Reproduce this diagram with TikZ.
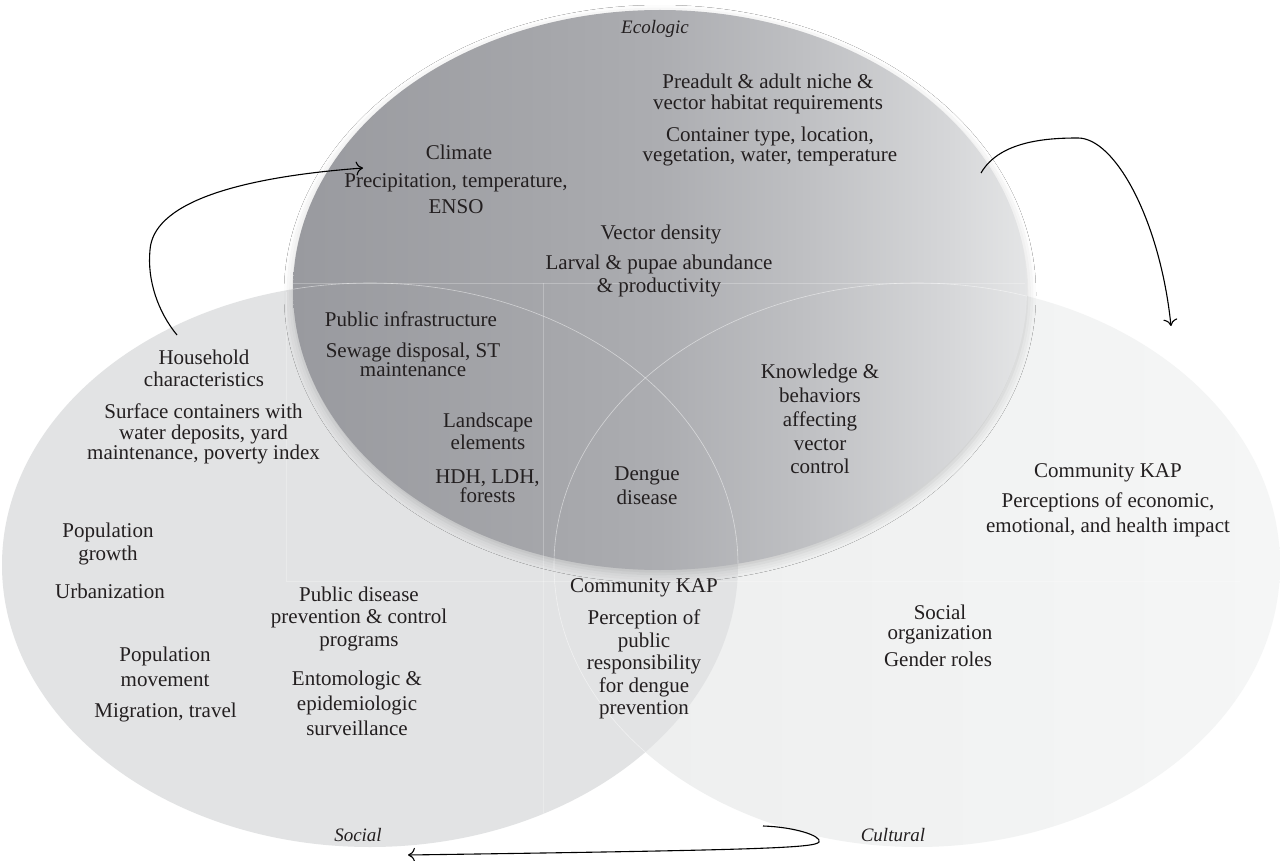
\documentclass[tikz,border=0pt]{standalone}
\usepackage{fontspec}
\setmainfont{Liberation Serif}
\usetikzlibrary{arrows.meta,shadows.blur}
\definecolor{txt}{HTML}{231F20}
\definecolor{socfill}{HTML}{E2E3E4}
\definecolor{culL}{HTML}{EDEEEE}
\definecolor{culR}{HTML}{F5F6F6}
\definecolor{ec0}{HTML}{999A9F}
\definecolor{ec1}{HTML}{A5A6AA}
\definecolor{ec2}{HTML}{ACADB1}
\definecolor{ec3}{HTML}{BEBFC2}
\definecolor{ec4}{HTML}{D5D6D8}
\definecolor{ec5}{HTML}{E4E5E6}
\pgfdeclarehorizontalshading{ecoshade}{100bp}{color(0bp)=(ec0); color(25bp)=(ec0); color(42bp)=(ec1); color(50bp)=(ec2); color(59.5bp)=(ec3); color(69.5bp)=(ec4); color(75bp)=(ec5); color(100bp)=(ec5)}
\pgfdeclarehorizontalshading{culshade}{100bp}{color(0bp)=(culL); color(25bp)=(culL); color(75bp)=(culR); color(100bp)=(culR)}
\begin{document}
\begin{tikzpicture}[x=1pt,y=-1pt,
  lbl/.style={align=center, inner sep=0pt, text=txt, font=\fontsize{21}{#1}\selectfont, execute at begin node=\strut, execute at end node=\strut},
  lbl/.default=21.5,
  one/.style={inner sep=0pt, text=txt, font=\fontsize{21}{22}\selectfont, anchor=base},
  ital/.style={inner sep=0pt, text=txt, font=\fontsize{19}{22}\selectfont\itshape, anchor=base},
  conn/.style={draw=black, line width=1.1pt, -{To[length=7pt,width=14pt]}},
  faint/.style={draw=white, draw opacity=0.25, line width=0.6pt},
  setline/.style={draw=white, draw opacity=0.5, line width=0.6pt}
]
\useasboundingbox (0,0) rectangle (1280,861);
\fill[white] (0,0) rectangle (1280,861);

% sets
\shade[shading=culshade] (917,565) ellipse [x radius=363pt, y radius=282pt];
\fill[socfill] (370,565) ellipse [x radius=368pt, y radius=282pt];
\shade[shading=ecoshade, blur shadow={shadow xshift=0pt, shadow yshift=-4pt, shadow blur radius=9pt, shadow opacity=18}]
  (660,290) ellipse [x radius=367pt, y radius=280pt];

% faint outlines where the sets overlap
\begin{scope}
  \clip (660,290) ellipse [x radius=367pt, y radius=280pt];
  \draw[setline] (370,565) ellipse [x radius=368pt, y radius=282pt];
\end{scope}
\begin{scope}
  \clip (370,565) ellipse [x radius=368pt, y radius=282pt]
        (660,290) ellipse [x radius=367pt, y radius=280pt];
  \draw[setline] (917,565) ellipse [x radius=363pt, y radius=282pt];
\end{scope}
\draw[faint] (293,283) -- (1025,283);
\draw[faint] (543,283) -- (543,815);
\draw[faint] (286,292) -- (286,581) -- (1240,581);

% labels
\node[ital] (eco) at (655,34) {Ecologic};
\node[ital] (soc) at (358,841) {Social};
\node[ital] (cul) at (893,841) {Cultural};

\node[lbl=21] (preadult) at (768,95.3) {Preadult \& adult niche \&\\vector habitat requirements};
\node[lbl=20] (container) at (770,147.7) {Container type, location,\\vegetation, water, temperature};
\node[one] (climate) at (459,160) {Climate};
\node[lbl=26] (precip) at (456,197.8) {Precipitation, temperature,\\ENSO};
\node[one] (vdens) at (661,240) {Vector density};
\node[lbl=23] (larval) at (659,276.9) {Larval \& pupae abundance\\\& productivity};
\node[one] (pubinf) at (411,326) {Public infrastructure};
\node[lbl=18.5] (sewage) at (413,362.4) {Sewage disposal, ST\\maintenance};
\node[lbl=22] (landsc) at (488,434.6) {Landscape\\elements};
\node[lbl=19] (hdh) at (487.5,488.7) {HDH, LDH,\\forests};
\node[lbl=24] (dengue) at (647,489.2) {Dengue\\disease};
\node[lbl=22] (household) at (204,371.6) {Household\\characteristics};
\node[lbl=20.5] (surface) at (203.5,434.7) {Surface containers with\\water deposits, yard\\maintenance, poverty index};
\node[lbl=22.4] (popgrowth) at (108,545) {Population\\growth};
\node[one] (urban) at (110,598) {Urbanization};
\node[lbl=25] (popmove) at (165,670.5) {Population\\movement};
\node[one] (migr) at (165.5,717) {Migration, travel};
\node[lbl=22.5] (pubdis) at (359,620) {Public disease\\prevention \& control\\programs};
\node[lbl=25] (entomo) at (357,706.7) {Entomologic \&\\epidemiologic\\surveillance};
\node[one] (kapmid) at (644,592) {Community KAP};
\node[lbl=22.5] (percmid) at (644,665.5) {Perception of\\public\\responsibility\\for dengue\\prevention};
\node[lbl=23.75] (knowl) at (820,422.7) {Knowledge \&\\behaviors\\affecting\\vector\\control};
\node[one] (kapright) at (1108,477) {Community KAP};
\node[lbl=25] (percright) at (1108,516.5) {Perceptions of economic,\\emotional, and health impact};
\node[lbl=19.5] (socorg) at (940,625) {Social\\organization};
\node[one] (gender) at (938,666) {Gender roles};

% connectors
\coordinate (a1s) at (177,335);
\coordinate (a1e) at (363,168);
\coordinate (a2s) at (981,173);
\coordinate (a2e) at (1171,326);
\coordinate (a3s) at (763,826);
\coordinate (a3e) at (408,855);
\draw[conn] (a1s) .. controls (158,312) and (147,280) .. (150,250)
  .. controls (153,205) and (230,178) .. (a1e);
\draw[conn] (a2s) .. controls (1000,140) and (1050,138) .. (1078,138)
  .. controls (1115,138) and (1160,220) .. (a2e);
\draw[conn] (a3s) .. controls (795,827) and (822,836) .. (819,842)
  .. controls (815,848) and (760,850) .. (a3e);
\end{tikzpicture}
\end{document}
